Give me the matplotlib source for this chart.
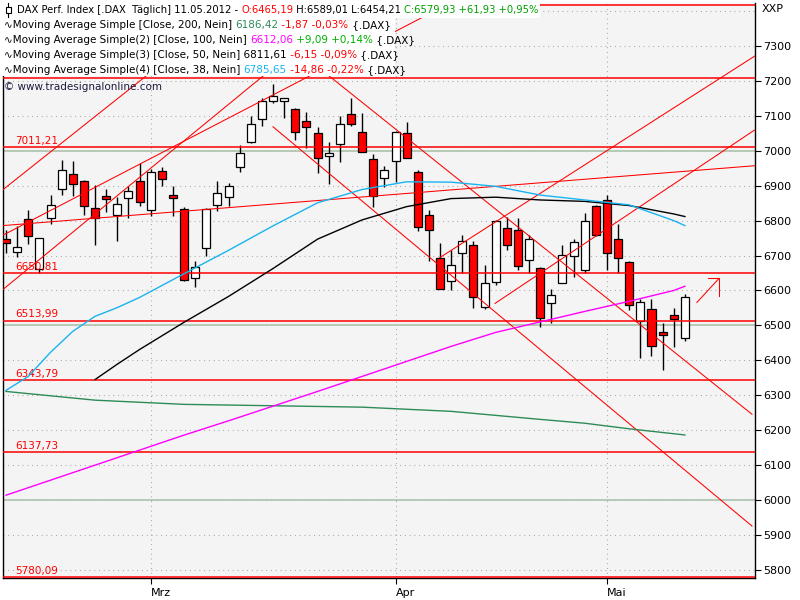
import numpy as np
import matplotlib.pyplot as plt
from matplotlib.patches import Rectangle

# ==========================================
# Daten: DAX Tageskerzen 13.02.2012 - 11.05.2012
# ==========================================
opens = [6748, 6711, 6805, 6662, 6808, 6890, 6933, 6914, 6836, 6869,
         6816, 6865, 6914, 6830, 6943, 6874, 6833, 6636, 6722, 6844,
         6868, 6953, 7025, 7090, 7143, 7142, 7119, 7085, 7050, 6984,
         7019, 7106, 7053, 6976, 6922, 6970, 7050, 6939, 6816, 6693,
         6628, 6708, 6731, 6553, 6625, 6779, 6773, 6687, 6665, 6565,
         6622, 6698, 6658, 6842, 6859, 6748, 6682, 6512, 6548, 6482,
         6531, 6465.19]
highs = [6774, 6784, 6829, 6751, 6874, 6972, 6970, 6917, 6903, 6889,
         6868, 6900, 6965, 6948, 6953, 6900, 6839, 6684, 6836, 6912,
         6908, 7017, 7098, 7150, 7191, 7150, 7122, 7111, 7068, 7025,
         7100, 7150, 7108, 6991, 6957, 7055, 7081, 6944, 6829, 6736,
         6717, 6760, 6743, 6674, 6801, 6811, 6806, 6760, 6667, 6603,
         6731, 6748, 6822, 6846, 6874, 6791, 6684, 6576, 6576, 6506,
         6549, 6589.01]
lows = [6708, 6696, 6733, 6649, 6791, 6874, 6870, 6817, 6730, 6824,
        6741, 6808, 6841, 6814, 6900, 6812, 6628, 6610, 6700, 6827,
        6843, 6938, 7022, 7070, 7138, 7093, 7030, 7008, 6936, 6906,
        6967, 7071, 6995, 6838, 6896, 6910, 6978, 6770, 6684, 6604,
        6601, 6649, 6550, 6546, 6615, 6715, 6660, 6649, 6496, 6508,
        6620, 6638, 6649, 6755, 6660, 6650, 6544, 6406, 6412, 6372,
        6438, 6454.21]
closes = [6736, 6725, 6757, 6750, 6845, 6946, 6905, 6841, 6808, 6862,
          6848, 6884, 6853, 6939, 6919, 6865, 6630, 6668, 6833, 6879,
          6898, 6993, 7076, 7143, 7157, 7150, 7053, 7068, 6979, 6993,
          7076, 7076, 6996, 6871, 6946, 7053, 6979, 6782, 6773, 6605,
          6673, 6742, 6582, 6622, 6799, 6731, 6670, 6748, 6521, 6587,
          6702, 6738, 6799, 6758, 6708, 6693, 6558, 6568, 6441, 6472,
          6518, 6579.93]

month_idx = [13, 35, 54]
month_labels = ['Mrz', 'Apr', 'Mai']

ma200_idx = [0, 8, 16, 24, 32, 40, 48, 52, 56, 61]
ma200_val = [6311, 6286, 6274, 6270, 6266, 6254, 6231, 6220, 6204, 6186.42]
ma100_idx = [0, 4, 8, 12, 16, 20, 24, 28, 32, 36, 40, 44, 48, 52, 56, 60, 61]
ma100_val = [6014, 6057, 6100, 6143, 6186, 6227, 6269, 6311, 6354, 6397,
             6440, 6480, 6510, 6540, 6569, 6600, 6612.06]
ma50_idx = [8, 10, 12, 16, 20, 24, 28, 32, 36, 40, 44, 48, 52, 56, 60, 61]
ma50_val = [6345, 6389, 6431, 6509, 6583, 6663, 6747, 6802, 6840, 6863,
            6867, 6859, 6855, 6843, 6819, 6811.61]
ma38_idx = [0, 2, 4, 6, 8, 10, 12, 16, 20, 24, 28, 32, 36, 40, 44, 48, 52, 56, 60, 61]
ma38_val = [6314, 6354, 6423, 6483, 6526, 6551, 6580, 6648, 6715, 6785,
            6851, 6889, 6911, 6910, 6898, 6873, 6859, 6845, 6800, 6785.65]

# Horizontale Marken
level_vals = [7011.21, 6650.81, 6513.99, 6343.79, 6137.73, 5780.09]
level_labels = ['7011,21', '6650,81', '6513,99', '6343,79', '6137,73', '5780,09']
hidden_levels = [7208.0, 7418.0]
round_levels = [6000, 6500, 7000]

# Trendlinien (Index, Kurs)
trend_x = [(-0.27, 20.84), (-0.27, 31.09), (-0.27, 39.9), (-0.27, 67.3),
           (20.84, 67.03), (23.99, 67.03), (43.94, 67.3), (38.99, 67.3)]
trend_y = [(6888.6, 7422.8), (6602.9, 7422.8), (6758.3, 7422.8), (6785.7, 6957.1),
           (7422.8, 6245.7), (7068.5, 5925.7), (6562.9, 7060.0), (6694.3, 7271.4)]
arrow_x = [62.08, 64.06, 63.07, 64.06, 64.06]
arrow_y = [6565.7, 6634.3, 6634.3, 6634.3, 6582.9]

# ==========================================
# Plot
# ==========================================
W, H = 800, 600
fig = plt.figure(figsize=(8, 6), dpi=100)
fig.patch.set_facecolor('white')
ax = fig.add_axes([3 / W, 22 / H, 752 / W, 575 / H])
ax.set_facecolor('#f4f4f4')
ax.set_xlim(-0.27, 67.3)
ax.set_ylim(5777, 7422.8)

# Raster
for v in range(5800, 7500, 100):
    ax.axhline(v, color='#a0a0a0', lw=0.8, ls=(0, (0.8, 3.5)), zorder=0.5)
for m in month_idx:
    ax.axvline(m, color='#a0a0a0', lw=0.8, ls=(0, (0.8, 3.5)), zorder=0.5)
for v in round_levels:
    ax.axhline(v, color='#b2c6b2', lw=1.3, zorder=0.6)

# Kerzen
x = np.arange(len(opens))
o, hi, lo, c = map(np.array, (opens, highs, lows, closes))
up = c >= o
ax.vlines(x, lo, hi, color='black', lw=1.0, zorder=2)
body_bot = np.minimum(o, c)
body_h = np.maximum(np.abs(c - o), 3)
ax.bar(x, body_h, bottom=body_bot, width=0.72,
       color=np.where(up, 'white', '#ff0000'), edgecolor='black', linewidth=0.9, zorder=3)

# Linien ueber den Kerzen
for v, lab in zip(level_vals, level_labels):
    ax.axhline(v, color='#ff0000', lw=1.1, zorder=4)
    ax.text(0.81, v + 3, lab, color='#ff0000', fontsize=7.5, ha='left', va='bottom', zorder=4)
for v in hidden_levels:
    ax.axhline(v, color='#ff0000', lw=1.1, zorder=4)

for tx, ty in zip(trend_x, trend_y):
    ax.plot(tx, ty, color='#ff0000', lw=0.75, zorder=4)
ax.plot(arrow_x[:2], arrow_y[:2], color='#ff0000', lw=0.75, zorder=4)
ax.plot(arrow_x[2:4], arrow_y[2:4], color='#ff0000', lw=0.75, zorder=4)
ax.plot(arrow_x[3:], arrow_y[3:], color='#ff0000', lw=0.75, zorder=4)

ax.plot(ma200_idx, ma200_val, color='#2e8b57', lw=1.0, zorder=4.5)
ax.plot(ma100_idx, ma100_val, color='#ff00ff', lw=1.0, zorder=4.5)
ax.plot(ma50_idx, ma50_val, color='black', lw=1.0, zorder=4.5)
ax.plot(ma38_idx, ma38_val, color='#19b4f0', lw=1.0, zorder=4.5)

# Achsen
for s in ['left', 'bottom', 'right']:
    ax.spines[s].set_color('black')
    ax.spines[s].set_linewidth(1.0)
ax.spines['top'].set_visible(False)
ax.yaxis.tick_right()
ax.set_yticks(range(5800, 7400, 100))
ax.tick_params(axis='y', direction='out', length=4, pad=2, labelsize=8, colors='black')
ax.set_xticks(month_idx)
ax.set_xticklabels(month_labels, ha='left')
ax.tick_params(axis='x', direction='out', length=4, pad=3, labelsize=8)
fig.text(762 / W, 1 - 9 / H, 'XXP', fontsize=8, va='center', ha='left')

# Legende
fig.add_artist(Rectangle((0, 1 - 76 / H), 395 / W, 76 / H, transform=fig.transFigure,
                         facecolor='white', edgecolor='none', zorder=5))
fig.add_artist(Rectangle((0, 1 - 18 / H), 540 / W, 18 / H, transform=fig.transFigure,
                         facecolor='white', edgecolor='none', zorder=5))
# Kerzensymbol
fig.add_artist(plt.Line2D([8 / W, 8 / W], [1 - 3 / H, 1 - 17 / H], transform=fig.transFigure,
                          color='black', lw=0.8, zorder=6))
fig.add_artist(Rectangle((5.5 / W, 1 - 13 / H), 5 / W, 6 / H, transform=fig.transFigure,
                         facecolor='white', edgecolor='black', lw=0.8, zorder=7))

rows = [
    (17, 10, [("DAX Perf. Index [.DAX  Täglich] 11.05.2012 - ", 'black'), ("O:6465,19", '#ff0000'),
              (" H:6589,01 L:6454,21 ", 'black'), ("C:6579,93 +61,93 +0,95%", '#00a000')]),
    (4, 25, [("∿Moving Average Simple [Close, 200, Nein] ", 'black'), ("6186,42", '#2e8b57'),
             (" -1,87 -0,03%", '#ff0000'), (" {.DAX}", 'black')]),
    (4, 40, [("∿Moving Average Simple(2) [Close, 100, Nein] ", 'black'), ("6612,06", '#ff00ff'),
             (" +9,09 +0,14%", '#00b000'), (" {.DAX}", 'black')]),
    (4, 55, [("∿Moving Average Simple(3) [Close, 50, Nein] 6811,61", 'black'),
             (" -6,15 -0,09%", '#ff0000'), (" {.DAX}", 'black')]),
    (4, 70, [("∿Moving Average Simple(4) [Close, 38, Nein] ", 'black'), ("6785,65", '#19b4f0'),
             (" -14,86 -0,22%", '#ff0000'), (" {.DAX}", 'black')]),
]
renderer = fig.canvas.get_renderer()
for x0, y0, pieces in rows:
    xp = x0
    size = 7.2 if y0 == 10 else 7.5
    for txt, col in pieces:
        t = fig.text(xp / W, 1 - y0 / H, txt, color=col, fontsize=size, va='center', ha='left', zorder=8)
        xp += t.get_window_extent(renderer=renderer).width
fig.text(4 / W, 1 - 87 / H, '© www.tradesignalonline.com', color='#1a1a40', fontsize=7.5,
         va='center', ha='left', zorder=8)

fig.savefig('out.png', dpi=100)
